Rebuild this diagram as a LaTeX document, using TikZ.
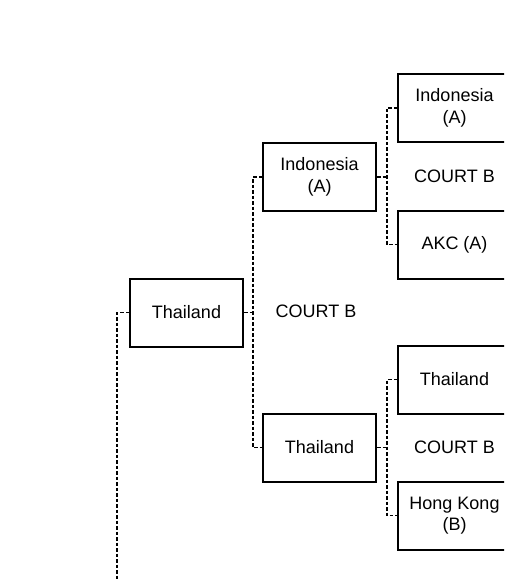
\documentclass[tikz,border=0pt]{standalone}
\usepackage{fontspec}
\setmainfont{Liberation Sans}
\begin{document}
\begin{tikzpicture}[x=1pt,y=-1pt,
  box/.style={draw, line width=2pt, minimum width=113pt, minimum height=68pt, align=center, inner sep=0pt, font=\fontsize{18}{21.5}\selectfont},
  lbl/.style={font=\fontsize{18}{21.5}\selectfont},
  conn/.style={line width=1.6pt, dash pattern=on 3.5pt off 2pt}]
\useasboundingbox (0,0) rectangle (504,580);
\clip (0,0) rectangle (504,580);
\node[box] (L) at (186.5,312.5) {Thailand};
\node[box] (I1) at (319.5,177) {Indonesia\\(A)};
\node[box] (T1) at (319.5,447.5) {Thailand};
\node[box] (I2) at (454.5,108) {Indonesia\\(A)};
\node[box] (A2) at (454.5,244.5) {AKC (A)};
\node[box] (T2) at (454.5,379.5) {Thailand};
\node[box] (H2) at (454.5,515.5) {Hong Kong\\(B)};
\node[lbl] (c1) at (316,311) {COURT B};
\node[lbl] (c2) at (454.5,176) {COURT B};
\node[lbl] (c3) at (454.5,447) {COURT B};
\coordinate (bot) at (117,580);
\coordinate (j1) at (253,312.5);
\coordinate (j2) at (387,177);
\coordinate (j3) at (387,447.5);
\draw[conn] (L.west) -| (bot);
\draw[conn] (L.east) -- (j1);
\draw[conn] (I1.west) -| (j1) |- (T1.west);
\draw[conn] (I1.east) -- (j2);
\draw[conn] (I2.west) -| (j2) |- (A2.west);
\draw[conn] (T1.east) -- (j3);
\draw[conn] (T2.west) -| (j3) |- (H2.west);
\end{tikzpicture}
\end{document}
